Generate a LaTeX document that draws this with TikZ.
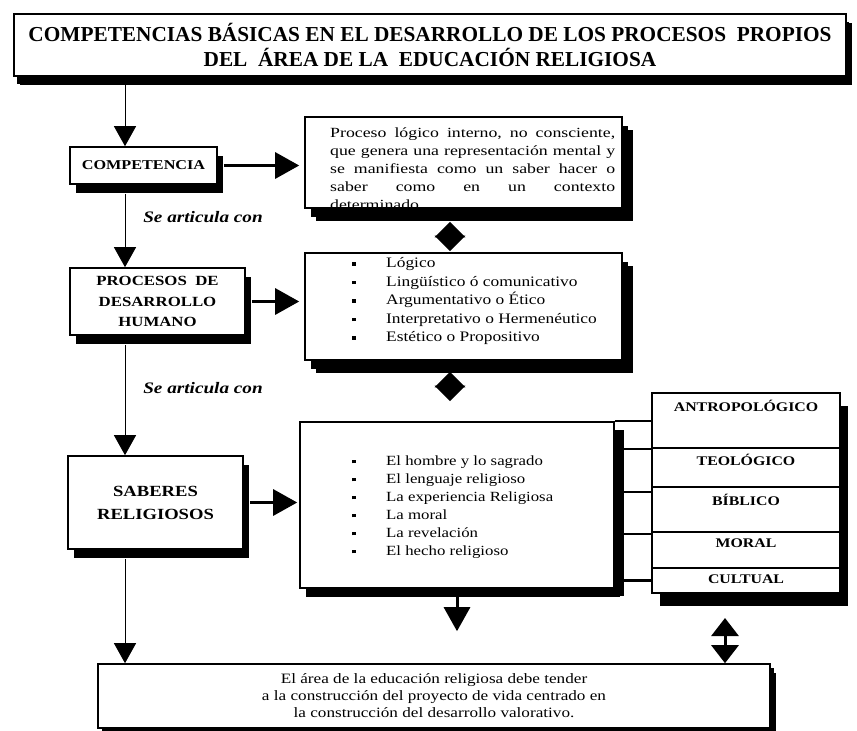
\documentclass[tikz,border=0pt]{standalone}
\usepackage{fontspec}
\setmainfont{Liberation Serif}
\newfontfamily\widefont[FakeStretch=1.2]{Liberation Serif}
\newfontfamily\descfont[FakeStretch=1.27]{Liberation Serif}
\usetikzlibrary{arrows.meta,shadows}
\newcommand\bul{\makebox[34pt][l]{\rule[2pt]{3.5pt}{3.5pt}}}
\newcommand\jl[1]{\hbox to 285pt{#1}}
\begin{document}
\begin{tikzpicture}[x=1pt,y=-1pt,
  box/.style={draw, line width=1.6pt, fill=white, inner sep=0pt,
    drop shadow={shadow xshift=6pt, shadow yshift=-9pt, fill=black, opacity=1}},
  bigshadow/.style={drop shadow={shadow xshift=11pt, shadow yshift=-13pt, fill=black, opacity=1}},
  lab/.style={font=\widefont\bfseries\fontsize{14}{20.5}\selectfont, align=center},
  row/.style={draw, line width=2pt, fill=white, minimum width=188pt, inner sep=0pt,
    drop shadow={shadow xshift=8pt, shadow yshift=-13pt, fill=black, opacity=1}},
  rowtext/.style={font=\widefont\bfseries\fontsize{13.2}{15}\selectfont, anchor=north, inner sep=0pt},
  listtxt/.style={font=\widefont\fontsize{14.5}{18.5}\selectfont, align=left, anchor=west, inner sep=0pt},
  thinarrow/.style={line width=1pt, -{Triangle[length=20pt,width=22pt]}},
  bigarrow/.style={line width=3pt, -{Triangle[length=24pt,width=26pt]}},
  dia/.style={line width=3pt, {Triangle[length=15.5pt,width=30pt]}-{Triangle[length=15.5pt,width=30pt]}},
  link/.style={line width=2.5pt},
  artic/.style={font=\widefont\bfseries\itshape\fontsize{16}{18}\selectfont}]
\useasboundingbox (0,0) rectangle (857,731);

% title
\node[box, minimum width=832pt, minimum height=62pt, align=center,
  drop shadow={shadow xshift=3pt, shadow yshift=-8pt, fill=black, opacity=1},
  font=\bfseries\fontsize{21.3}{25}\selectfont] (title) at (430,45)
  {COMPETENCIAS BÁSICAS EN EL DESARROLLO DE LOS PROCESOS~ PROPIOS\\DEL~ ÁREA DE LA~ EDUCACIÓN RELIGIOSA};

% left boxes
\node[box, lab, minimum width=147pt, minimum height=37pt, font=\widefont\bfseries\fontsize{13.5}{16}\selectfont] (comp) at (143.5,165.5) {COMPETENCIA};
\node[box, lab, minimum width=175pt, minimum height=67pt] (proc) at (157.5,301.5) {PROCESOS~ DE\\DESARROLLO\\HUMANO};
\node[box, lab, minimum width=175pt, minimum height=93pt,
  font=\widefont\bfseries\fontsize{15.5}{23}\selectfont] (sab) at (155.5,502.5) {SABERES\\RELIGIOSOS};

% description box
\node[box, bigshadow, minimum width=317pt, minimum height=91pt] (desc) at (463.5,162.5) {};
\node[font=\descfont\fontsize{14}{18}\selectfont, align=left, anchor=west, inner sep=0pt] (desct) at (330,169)
  {\jl{Proceso\hfill lógico\hfill interno,\hfill no\hfill consciente,}\\
   \jl{que\hfill genera\hfill una\hfill representación\hfill mental\hfill y}\\
   \jl{se\hfill manifiesta\hfill como\hfill un\hfill saber\hfill hacer\hfill o}\\
   \jl{saber\hfill como\hfill en\hfill un\hfill contexto}\\
   determinado.};

% list box
\node[box, bigshadow, minimum width=317pt, minimum height=107pt] (list) at (463.5,306.5) {};
\node[listtxt] (listt) at (352,301)
  {\bul Lógico\\ \bul Lingüístico ó comunicativo\\ \bul Argumentativo o Ético\\
   \bul Interpretativo o Hermenéutico\\ \bul Estético o Propositivo};

% items box
\node[box, minimum width=314pt, minimum height=166pt,
  drop shadow={shadow xshift=10pt, shadow yshift=-8pt, fill=black, opacity=1}] (items) at (457,505) {};
\node[listtxt, font=\widefont\fontsize{14}{18}\selectfont] (itemst) at (352,507)
  {\bul El hombre y lo sagrado\\ \bul El lenguaje religioso\\ \bul La experiencia Religiosa\\
   \bul La moral\\ \bul La revelación\\ \bul El hecho religioso};

% right column
\node[row, minimum height=55pt] (r1) at (746,420.5) {};
\node[row, minimum height=39pt] (r2) at (746,467.5) {};
\node[row, minimum height=45pt] (r3) at (746,509.5) {};
\node[row, minimum height=36pt] (r4) at (746,550) {};
\node[row, minimum height=25pt] (r5) at (746,580.5) {};
\node[rowtext] (t1) at ([yshift=-8pt]r1.north) {ANTROPOLÓGICO};
\node[rowtext] (t2) at ([yshift=-7pt]r2.north) {TEOLÓGICO};
\node[rowtext] (t3) at ([yshift=-8pt]r3.north) {BÍBLICO};
\node[rowtext] (t4) at ([yshift=-8pt]r4.north) {MORAL};
\node[rowtext] (t5) at ([yshift=-8pt]r5.north) {CULTUAL};

% bottom box
\node[box, minimum width=672pt, minimum height=64pt, align=center,
  drop shadow={shadow xshift=4pt, shadow yshift=-4pt, fill=black, opacity=1},
  font=\widefont\fontsize{14.3}{17}\selectfont] (bottom) at (434,696)
  {El área de la educación religiosa debe tender\\
   a la construcción del proyecto de vida centrado en\\
   la construcción del desarrollo valorativo.};

% labels
\node[artic] (a1) at (203,217) {Se articula con};
\node[artic] (a2) at (203,388) {Se articula con};

% spine
\coordinate (spine) at (125,0);
\draw[thinarrow] ([yshift=-8pt]title.south -| spine) -- (comp.north -| spine);
\draw[thinarrow] ([yshift=-9pt]comp.south -| spine) -- (proc.north -| spine);
\draw[thinarrow] ([yshift=-9pt]proc.south -| spine) -- (sab.north -| spine);
\draw[thinarrow] ([yshift=-9pt]sab.south -| spine) -- (bottom.north -| spine);

% right arrows
\draw[bigarrow, shorten >=5pt] ([xshift=6pt]comp.east) -- (desc.west |- comp.east);
\draw[bigarrow, shorten >=5pt] ([xshift=6pt]proc.east) -- (list.west |- proc.east);
\draw[bigarrow, shorten >=2pt] ([xshift=6pt]sab.east) -- (items.west |- sab.east);

% diamonds
\coordinate (dx) at (450,0);
\draw[dia, shorten <=13pt, shorten >=1pt] (desc.south -| dx) -- (list.north -| dx);
\draw[dia, shorten <=11pt, shorten >=20pt] (list.south -| dx) -- (items.north -| dx);

% items to column
\draw[link] (items.north east) -- (r1.west |- items.north east);
\draw[link] ([yshift=-2pt]r2.north west) -- ([yshift=-2pt]r2.north west -| items.east);
\draw[link] ([yshift=-6pt]r3.north west) -- ([yshift=-6pt]r3.north west -| items.east);
\draw[link] ([yshift=-3pt]r4.north west) -- ([yshift=-3pt]r4.north west -| items.east);
\draw[link] (r5.west) -- (r5.west -| items.east);

% down arrows
\draw[bigarrow, shorten >=32pt] ([yshift=-8pt]items.south) -- (bottom.north -| items.south);
\coordinate (dbx) at (725,0);
\draw[line width=3pt, {Triangle[length=18pt,width=27pt]}-{Triangle[length=18pt,width=27pt]}, shorten <=24pt]
  (r5.south -| dbx) -- (bottom.north -| dbx);
\end{tikzpicture}
\end{document}
